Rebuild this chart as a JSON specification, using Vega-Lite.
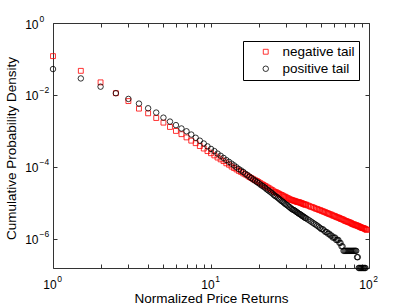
{
"$schema":"https://vega.github.io/schema/vega-lite/v6.json",
"width":316,"height":245,
"autosize":{"type":"none"},
"padding":{"left":53,"top":23,"right":38,"bottom":38},
"background":"white",
"config":{
 "view":{"stroke":null},
 "font":"Liberation Sans",
 "axis":{"grid":false,"domainColor":"#333333","tickColor":"#333333","domainWidth":1,"tickWidth":1,"tickSize":4,"labelColor":"black","titleColor":"black","labelFont":"Liberation Sans","titleFont":"Liberation Sans","labelFontSize":12,"titleFontSize":13.5,"titleFontWeight":"normal"},
 "legend":{"labelFont":"Liberation Sans","labelFontSize":13.5,"labelColor":"black","strokeColor":"black","fillColor":"white","padding":4,"symbolOffset":12,"labelOffset":10,"rowPadding":2,"symbolSize":24,"symbolStrokeWidth":0.8}
},
"data":{"values":[
{"x":1,"n":1.2e-1,"p":5.25e-2},
{"x":1.5,"n":4.68e-2,"p":2.88e-2},
{"x":2,"n":2.24e-2,"p":1.70e-2},
{"x":2.5,"n":1.12e-2,"p":1.12e-2},
{"x":3,"n":6.76e-3,"p":7.76e-3},
{"x":3.5,"n":4.17e-3,"p":5.75e-3},
{"x":4,"n":3.09e-3,"p":4.27e-3},
{"x":4.5,"n":2.29e-3,"p":3.24e-3},
{"x":5,"n":1.70e-3,"p":2.34e-3},
{"x":5.5,"n":1.29e-3,"p":1.82e-3},
{"x":6,"n":1.0e-3,"p":1.45e-3},
{"x":6.5,"n":8.13e-4,"p":1.17e-3},
{"x":7,"n":6.61e-4,"p":9.77e-4},
{"x":7.5,"n":5.37e-4,"p":7.94e-4},
{"x":8,"n":4.57e-4,"p":6.46e-4},
{"x":8.5,"n":3.80e-4,"p":5.37e-4},
{"x":9,"n":3.24e-4,"p":4.47e-4},
{"x":9.5,"n":2.75e-4,"p":3.72e-4},
{"x":10,"n":2.40e-4,"p":3.16e-4},
{"x":10.5,"n":2.09e-4,"p":2.75e-4},
{"x":11,"n":1.82e-4,"p":2.34e-4},
{"x":11.5,"n":1.62e-4,"p":2.04e-4},
{"x":12,"n":1.45e-4,"p":1.78e-4},
{"x":12.5,"n":1.26e-4,"p":1.55e-4},
{"x":13,"n":1.15e-4,"p":1.38e-4},
{"x":13.5,"n":1.02e-4,"p":1.23e-4},
{"x":14,"n":9.33e-5,"p":1.10e-4},
{"x":14.5,"n":8.51e-5,"p":9.77e-5},
{"x":15,"n":7.76e-5,"p":8.71e-5},
{"x":15.5,"n":7.24e-5,"p":7.94e-5},
{"x":16,"n":6.61e-5,"p":7.24e-5},
{"x":16.5,"n":6.17e-5,"p":6.46e-5},
{"x":17,"n":5.75e-5,"p":5.89e-5},
{"x":17.5,"n":5.25e-5,"p":5.37e-5},
{"x":18,"n":4.90e-5,"p":4.90e-5},
{"x":18.5,"n":4.57e-5,"p":4.47e-5},
{"x":19,"n":4.27e-5,"p":4.17e-5},
{"x":19.5,"n":4.07e-5,"p":3.80e-5},
{"x":20,"n":3.80e-5,"p":3.55e-5},
{"x":20.5,"n":3.55e-5,"p":3.24e-5},
{"x":21,"n":3.31e-5,"p":3.02e-5},
{"x":21.5,"n":3.16e-5,"p":2.82e-5},
{"x":22,"n":2.95e-5,"p":2.63e-5},
{"x":22.5,"n":2.82e-5,"p":2.40e-5},
{"x":23,"n":2.63e-5,"p":2.24e-5},
{"x":23.5,"n":2.51e-5,"p":2.09e-5},
{"x":24,"n":2.34e-5,"p":1.95e-5},
{"x":24.5,"n":2.24e-5,"p":1.82e-5},
{"x":25,"n":2.09e-5,"p":1.66e-5},
{"x":25.5,"n":2.00e-5,"p":1.55e-5},
{"x":26,"n":1.95e-5,"p":1.48e-5},
{"x":26.5,"n":1.86e-5,"p":1.38e-5},
{"x":27,"n":1.78e-5,"p":1.29e-5},
{"x":27.5,"n":1.70e-5,"p":1.20e-5},
{"x":28,"n":1.66e-5,"p":1.12e-5},
{"x":28.5,"n":1.58e-5,"p":1.07e-5},
{"x":29,"n":1.51e-5,"p":1.0e-5},
{"x":29.5,"n":1.48e-5,"p":9.33e-6},
{"x":30,"n":1.41e-5,"p":8.91e-6},
{"x":30.5,"n":1.35e-5,"p":8.51e-6},
{"x":31,"n":1.32e-5,"p":7.94e-6},
{"x":31.5,"n":1.26e-5,"p":7.59e-6},
{"x":32,"n":1.23e-5,"p":7.08e-6},
{"x":32.5,"n":1.20e-5,"p":6.76e-6},
{"x":33,"n":1.17e-5,"p":6.46e-6},
{"x":33.5,"n":1.15e-5,"p":6.31e-6},
{"x":34,"n":1.12e-5,"p":6.03e-6},
{"x":34.5,"n":1.10e-5,"p":5.75e-6},
{"x":35,"n":1.07e-5,"p":5.50e-6},
{"x":35.5,"n":1.05e-5,"p":5.25e-6},
{"x":36,"n":1.05e-5,"p":5.01e-6},
{"x":36.5,"n":1.02e-5,"p":4.90e-6},
{"x":37,"n":1.0e-5,"p":4.68e-6},
{"x":37.5,"n":9.77e-6,"p":4.47e-6},
{"x":38,"n":9.55e-6,"p":4.27e-6},
{"x":38.5,"n":9.33e-6,"p":4.17e-6},
{"x":39,"n":9.12e-6,"p":3.98e-6},
{"x":39.5,"n":8.91e-6,"p":3.80e-6},
{"x":40,"n":8.91e-6,"p":3.72e-6},
{"x":41,"n":8.51e-6,"p":3.47e-6},
{"x":42,"n":8.13e-6,"p":3.24e-6},
{"x":43,"n":7.76e-6,"p":3.02e-6},
{"x":44,"n":7.59e-6,"p":2.82e-6},
{"x":45,"n":7.24e-6,"p":2.635e-6},
{"x":46,"n":6.92e-6,"p":2.48e-6},
{"x":47,"n":6.76e-6,"p":2.325e-6},
{"x":48,"n":6.46e-6,"p":2.17e-6},
{"x":49,"n":6.31e-6,"p":2.015e-6},
{"x":50,"n":6.03e-6,"p":1.86e-6},
{"x":51,"n":5.89e-6,"p":1.86e-6},
{"x":52,"n":5.62e-6,"p":1.705e-6},
{"x":53,"n":5.50e-6,"p":1.55e-6},
{"x":54,"n":5.25e-6,"p":1.55e-6},
{"x":55,"n":5.13e-6,"p":1.395e-6},
{"x":56,"n":4.90e-6,"p":1.395e-6},
{"x":57,"n":4.79e-6,"p":1.24e-6},
{"x":58,"n":4.68e-6,"p":1.24e-6},
{"x":59,"n":4.47e-6,"p":1.085e-6},
{"x":60,"n":4.37e-6,"p":1.085e-6},
{"x":61,"n":4.27e-6,"p":1.085e-6},
{"x":62,"n":4.07e-6,"p":9.3e-7},
{"x":63,"n":3.98e-6,"p":9.3e-7},
{"x":64,"n":3.89e-6,"p":9.3e-7},
{"x":65,"n":3.80e-6,"p":7.75e-7},
{"x":66,"n":3.63e-6,"p":7.75e-7},
{"x":67,"n":3.55e-6,"p":6.2e-7},
{"x":68,"n":3.47e-6,"p":6.2e-7},
{"x":69,"n":3.39e-6,"p":4.65e-7},
{"x":70,"n":3.24e-6,"p":4.65e-7},
{"x":71,"n":3.16e-6,"p":4.65e-7},
{"x":72,"n":3.09e-6,"p":4.65e-7},
{"x":73,"n":3.02e-6,"p":4.65e-7},
{"x":74,"n":2.95e-6,"p":4.65e-7},
{"x":75,"n":2.88e-6,"p":4.65e-7},
{"x":76,"n":2.82e-6,"p":4.65e-7},
{"x":77,"n":2.75e-6,"p":4.65e-7},
{"x":78,"n":2.63e-6,"p":4.65e-7},
{"x":79,"n":2.57e-6,"p":4.65e-7},
{"x":80,"n":2.51e-6,"p":4.65e-7},
{"x":81,"n":2.51e-6,"p":4.65e-7},
{"x":82,"n":2.40e-6,"p":4.65e-7},
{"x":83,"n":2.40e-6,"p":4.65e-7},
{"x":84,"n":2.34e-6,"p":3.1e-7},
{"x":85,"n":2.29e-6,"p":3.1e-7},
{"x":86,"n":2.24e-6,"p":1.55e-7},
{"x":87,"n":2.19e-6,"p":1.55e-7},
{"x":88,"n":2.14e-6,"p":1.55e-7},
{"x":89,"n":2.09e-6,"p":1.55e-7},
{"x":90,"n":2.04e-6,"p":1.55e-7},
{"x":91,"n":2.00e-6,"p":1.55e-7},
{"x":92,"n":2.00e-6,"p":1.55e-7},
{"x":93,"n":1.95e-6,"p":1.55e-7},
{"x":94,"n":1.91e-6,"p":1.55e-7},
{"x":95,"n":1.86e-6,"p":1.55e-7},
{"x":96,"n":1.82e-6},
{"x":97,"n":1.78e-6}
]},
"transform":[{"fold":["n","p"],"as":["key","v"]},{"filter":"isValid(datum.v)"}],
"layer":[
 {
  "mark":{"type":"point","filled":false,"strokeWidth":0.8,"opacity":1},
  "encoding":{
   "x":{"field":"x","type":"quantitative","scale":{"type":"log","domain":[1,100],"nice":false},
        "axis":{"orient":"bottom","values":[1,10,100],"ticks":false,
                "labelExpr":"'10'","labelOffset":-3.5,
                "labelPadding":20,"labelBaseline":"alphabetic","labelFlush":false,"labelOverlap":false,
                "title":"Normalized Price Returns","titleY":34,"titleBaseline":"alphabetic"}},
   "y":{"field":"v","type":"quantitative","scale":{"type":"log","domain":[1.55e-7,1],"nice":false},
        "axis":{"orient":"left","values":[1,0.01,0.0001,0.000001],"ticks":false,
                "labelExpr":"'10'","labelOffset":1,
                "labelPadding":15,"labelFlush":false,"labelOverlap":false,
                "title":"Cumulative Probability Density","titleX":-38,"titleY":125,"titleAngle":-90,"titleAlign":"center","titleBaseline":"alphabetic"}},
   "color":{"field":"key","type":"nominal","scale":{"domain":["n","p"],"range":["#ff0000","#000000"]},
            "legend":{"orient":"none","legendX":190,"legendY":18,"title":null,
                      "labelExpr":"datum.label=='n'?'negative tail':'positive tail'"}},
   "shape":{"field":"key","type":"nominal","scale":{"domain":["n","p"],"range":["square","circle"]},
            "legend":{"orient":"none","legendX":190,"legendY":18,"title":null,
                      "labelExpr":"datum.label=='n'?'negative tail':'positive tail'"}},
   "size":{"field":"key","type":"nominal","scale":{"domain":["n","p"],"range":[24,30]},"legend":null},
   "order":{"field":"key","type":"nominal","sort":"ascending"}
  }
 },
 {
  "mark":{"type":"point","opacity":0},
  "encoding":{
   "x":{"field":"x","type":"quantitative","scale":{"type":"log","domain":[1,100],"nice":false},
        "axis":{"orient":"top","offset":-245,"domain":false,"values":[1,2,3,4,5,6,7,8,9,10,20,30,40,50,60,70,80,90,100],"labels":false,"title":null}},
   "y":{"field":"v","type":"quantitative","scale":{"type":"log","domain":[1.55e-7,1],"nice":false},
        "axis":{"orient":"right","offset":-316,"domain":false,"values":[1,0.01,0.0001,0.000001],"labels":false,"title":null}}
  }
 },
 {
  "mark":{"type":"point","opacity":0},
  "encoding":{
   "x":{"field":"x","type":"quantitative","scale":{"type":"log","domain":[1,100],"nice":false},
        "axis":{"orient":"bottom","offset":-245,"values":[1,2,3,4,5,6,7,8,9,10,20,30,40,50,60,70,80,90,100],"labels":false,"title":null}},
   "y":{"field":"v","type":"quantitative","scale":{"type":"log","domain":[1.55e-7,1],"nice":false},
        "axis":{"orient":"left","offset":-316,"values":[1,0.01,0.0001,0.000001],"labels":false,"title":null}}
  }
 },
 {
  "mark":{"type":"point","opacity":0},
  "encoding":{
   "x":{"field":"x","type":"quantitative","scale":{"type":"log","domain":[1,100],"nice":false},
        "axis":{"orient":"bottom","domain":false,"ticks":false,"values":[1,10,100],
                "labelExpr":"datum.value==1?'0':datum.value==10?'1':'2'","labelFontSize":8.5,"labelOffset":6,
                "labelPadding":13,"labelBaseline":"alphabetic","labelFlush":false,"labelOverlap":false,"title":null}},
   "y":{"field":"v","type":"quantitative","scale":{"type":"log","domain":[1.55e-7,1],"nice":false},
        "axis":{"orient":"left","domain":false,"ticks":false,"values":[1,0.01,0.0001,0.000001],
                "labelExpr":"datum.value==1?'0':datum.value==0.01?'−2':datum.value==0.0001?'−4':'−6'","labelFontSize":8.5,
                "labelAlign":"left","labelPadding":14,"labelOffset":-5,"labelFlush":false,"labelOverlap":false,"title":null}}
  }
 }
],
"resolve":{"axis":{"x":"independent","y":"independent"}}
}
